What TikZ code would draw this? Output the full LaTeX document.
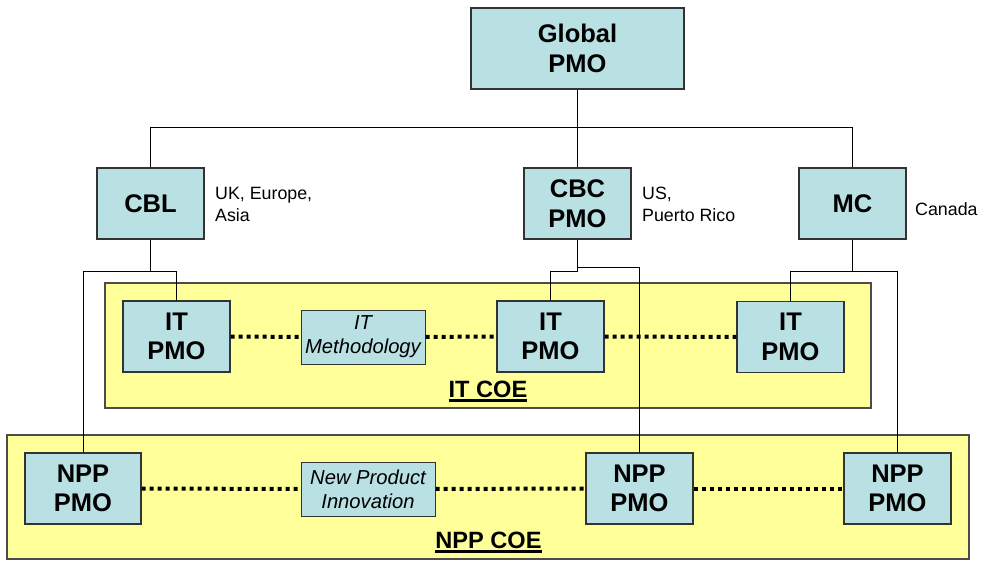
\documentclass[tikz,border=0pt]{standalone}
\usepackage{fontspec}
\setmainfont{Liberation Sans}
\usetikzlibrary{positioning}
\definecolor{boksbla}{RGB}{185,224,227}
\definecolor{coegul}{RGB}{255,255,153}
\newcommand{\tykkstrek}[1]{\leavevmode\vtop{\hbox{#1}\kern1.5pt\hrule height 2.5pt}}
\tikzset{
    %Define style for boxes
    boks/.style={
           rectangle,
           draw=black!80, line width=1.3pt,
           fill=boksbla,
           minimum width=107pt,
           minimum height=71pt,
           inner sep=0pt,
           align=center,
           font=\fontsize{25.5}{29.5}\selectfont\bfseries},
    boksliten/.style={
           rectangle,
           draw=black!80, line width=1pt,
           fill=boksbla,
           minimum height=54pt,
           inner sep=0pt,
           align=center,
           font=\fontsize{20.2}{24}\selectfont\itshape},
    % Define style for areas and labels
    coe/.style={draw=black!70, line width=1.3pt, fill=coegul},
    notat/.style={anchor=west, inner sep=0pt, align=left,
           font=\fontsize{17.8}{22}\selectfont},
    coenavn/.style={inner sep=0pt, font=\fontsize{23.6}{27}\selectfont\bfseries},
    % Define line styles
    linje/.style={line width=0.9pt},
    stamme/.style={line width=1.6pt},
    prikk/.style={line width=4pt, dash pattern=on 4pt off 4pt}
}

\begin{document}
\begin{tikzpicture}[x=1pt,y=-1pt]
\useasboundingbox (0,0) rectangle (981,561);
 %areas
\draw[coe] (105,283) rectangle (871,408);
\draw[coe] (7,435) rectangle (969,559);
\node[coenavn] (16) at (488,391.5) {\tykkstrek{IT COE}};
\node[coenavn] (17) at (488.5,542.5) {\tykkstrek{NPP COE}};

 %nodes
\node[boks, minimum width=213pt, minimum height=81pt] (1) at (577.5,48.5) {Global\\PMO};
\node[boks] (2) at (150.5,203.5) {CBL};
\node[boks] (3) at (577.5,203.5) {CBC\\PMO};
\node[boks] (4) at (852.5,203.5) {MC};
\node[notat] (18) at (215,204) {UK, Europe,\\Asia};
\node[notat] (19) at (642,204) {US,\\Puerto Rico};
\node[notat] (20) at (915,209) {Canada};

\node[boks] (5) at (176.5,336.5) {IT\\PMO};
\node[boksliten, minimum width=124pt] (6) at (363,337) {IT\\Methodology};
\node[boks] (7) at (550.5,336.5) {IT\\PMO};
\node[boks] (8) at (790.5,337) {IT\\PMO};

\node[boks, minimum width=116pt] (9) at (83,488.5) {NPP\\PMO};
\node[boksliten, minimum width=134pt] (10) at (368,489) {New Product\\Innovation};
\node[boks] (11) at (639.5,488.5) {NPP\\PMO};
\node[boks] (12) at (897.5,488.5) {NPP\\PMO};

 %lines
\coordinate (13) at (0,127);
\coordinate (14) at (0,271);
\coordinate (15) at (0,267);
\draw[linje] (1) -- (3);
\draw[linje] (2.north) -- (2.north |- 13) -- (4.north |- 13) -- (4.north);

\draw[stamme] (2.south) -- (2.south |- 14);
\draw[linje] (9.north) -- (9.north |- 14) -- (5.north |- 14) -- (5.north);
\draw[stamme] (3.south) -- (3.south |- 14);
\draw[linje] (3.south |- 14) -- (7.north |- 14) -- (7.north);
\draw[linje] (3.south |- 15) -- (11.north |- 15) -- (11.north);
\draw[stamme] (4.south) -- (4.south |- 14);
\draw[linje] (8.north) -- (8.north |- 14) -- (12.north |- 14) -- (12.north);

\path[prikk]
    (5) edge (6)
    (6) edge (7)
    (7) edge (8)
    (9) edge (10)
    (10) edge (11)
    (11) edge (12);

\end{tikzpicture}
\end{document}
